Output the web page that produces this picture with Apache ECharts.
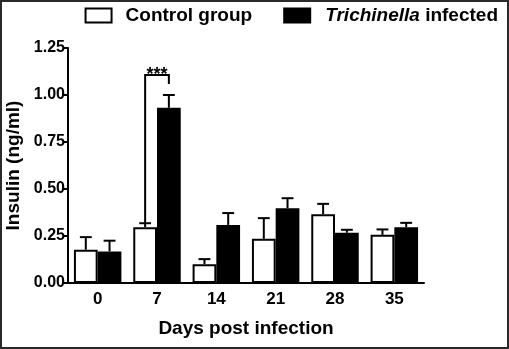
<!DOCTYPE html>
<html>
<head>
<meta charset="utf-8">
<script src="https://cdn.jsdelivr.net/npm/echarts@6/dist/echarts.min.js"></script>
<style>
    body { margin: 0; background: #fff; }
    #wrap { position: relative; width: 509px; height: 349px; }
    #chart { width: 509px; height: 349px; }
    #frame { position: absolute; left: 0; top: 0; width: 509px; height: 349px; box-sizing: border-box; border: 2px solid #2a2a2a; pointer-events: none; }
</style>
</head>
<body>
<div id="wrap">
    <div id="chart"></div>
    <div id="frame"></div>
</div>
<script>
// 数据
const days = ['0', '7', '14', '21', '28', '35'];
const controlMean = [0.177, 0.297, 0.10, 0.235, 0.366, 0.256];
const controlErr = [0.244, 0.318, 0.127, 0.345, 0.421, 0.285];
const infectedMean = [0.168, 0.932, 0.309, 0.398, 0.267, 0.297];
const infectedErr = [0.225, 1.0, 0.372, 0.451, 0.283, 0.32];
const yTicks = [0, 0.25, 0.5, 0.75, 1.0, 1.25];

// 显著性标记: [类别序号, 左脚底, 横线高度, 右脚底]
const sigBrackets = [[1, 0.32, 1.106, 1.058]];
const sigLabels = ['***'];

const FONT = '"Liberation Sans", Arial, sans-serif';
const barFrac = 0.4;    // 柱宽占类目宽度比例

const chart = echarts.init(document.getElementById('chart'));

// 误差线
function errorRender(offset) {
    return function (params, api) {
        const idx = api.value(0);
        const band = api.size([1, 0])[0];
        const base = api.coord([idx, api.value(1)]);
        const top = api.coord([idx, api.value(2)]);
        const x = base[0] + offset * band;
        const cap = band * barFrac / 4;
        const style = { stroke: '#000', lineWidth: 2 };
        return {
            type: 'group',
            children: [
                { type: 'line', shape: { x1: x, y1: base[1], x2: x, y2: top[1] }, style: style },
                { type: 'line', shape: { x1: x - cap, y1: top[1], x2: x + cap, y2: top[1] }, style: style }
            ]
        };
    };
}

function bracketRender(params, api) {
    const idx = api.value(0);
    const band = api.size([1, 0])[0];
    const c = api.coord([idx, 0])[0];
    const off = band * barFrac / 2;
    const yl = api.coord([idx, api.value(1)])[1];
    const yt = api.coord([idx, api.value(2)])[1];
    const yr = api.coord([idx, api.value(3)])[1];
    return {
        type: 'group',
        children: [
            {
                type: 'polyline',
                shape: { points: [[c - off, yl], [c - off, yt], [c + off, yt], [c + off, yr]] },
                style: { stroke: '#000', lineWidth: 2, fill: null }
            },
            {
                type: 'text',
                style: {
                    text: sigLabels[params.dataIndex], x: c, y: yt + 9,
                    align: 'center', verticalAlign: 'bottom',
                    font: 'bold 18px ' + FONT, fill: '#000'
                }
            }
        ]
    };
}

const option = {
    animation: false,
    textStyle: { fontFamily: FONT },
    legend: {
        top: 1,
        right: 6,
        icon: 'rect',
        itemWidth: 26,
        itemHeight: 14,
        itemGap: 31,
        data: ['Control group', 'Trichinella infected'],
        formatter: function (name) {
            if (name === 'Trichinella infected') return '{i|Trichinella}{n| infected}';
            return '{g|' + name + '}';
        },
        textStyle: {
            color: '#000',
            rich: {
                g: { fontSize: 19, fontWeight: 'bold', color: '#000', padding: [0, 0, 0, 9] },
                i: { fontSize: 19, fontWeight: 'bold', fontStyle: 'italic', color: '#000', padding: [0, 0, 0, 10] },
                n: { fontSize: 19, fontWeight: 'bold', color: '#000' }
            }
        }
    },
    grid: { left: 68, right: 85, top: 48, bottom: 66, outerBoundsMode: 'none', containLabel: false },
    xAxis: {
        type: 'category',
        data: days,
        name: 'Days post infection',
        nameLocation: 'middle',
        nameGap: 36,
        nameTextStyle: { fontSize: 19, fontWeight: 'bold', color: '#000' },
        axisLine: { lineStyle: { color: '#000', width: 2 } },
        axisTick: { alignWithLabel: true, length: 5, lineStyle: { color: '#000', width: 2 } },
        axisLabel: { fontSize: 17, fontWeight: 'bold', color: '#000', margin: 8 }
    },
    yAxis: {
        type: 'value',
        min: yTicks[0],
        max: yTicks[yTicks.length - 1],
        interval: 0.25,
        name: 'Insulin (ng/ml)',
        nameLocation: 'middle',
        nameGap: 39,
        nameTextStyle: { fontSize: 19, fontWeight: 'bold', color: '#000' },
        splitLine: { show: false },
        axisLine: { show: true, lineStyle: { color: '#000', width: 2 } },
        axisTick: { show: true, length: 4, lineStyle: { color: '#000', width: 2 } },
        axisLabel: {
            fontSize: 16, fontWeight: 'bold', color: '#000', margin: 3,
            formatter: function (v) { return v.toFixed(2); }
        }
    },
    series: [
        {
            name: 'Control group',
            type: 'bar',
            barWidth: (barFrac * 100) + '%',
            barGap: '0%',
            data: controlMean,
            itemStyle: { color: '#fff', borderColor: '#000', borderWidth: 2 }
        },
        {
            name: 'Trichinella infected',
            type: 'bar',
            barWidth: (barFrac * 100) + '%',
            data: infectedMean,
            itemStyle: { color: '#000', borderColor: '#000', borderWidth: 2 }
        },
        {
            type: 'custom',
            renderItem: errorRender(-barFrac / 2),
            data: days.map((d, i) => [i, controlMean[i], controlErr[i]]),
            z: 5,
            silent: true
        },
        {
            type: 'custom',
            renderItem: errorRender(barFrac / 2),
            data: days.map((d, i) => [i, infectedMean[i], infectedErr[i]]),
            z: 5,
            silent: true
        },
        {
            type: 'custom',
            renderItem: bracketRender,
            data: sigBrackets,
            z: 6,
            silent: true
        }
    ]
};

chart.setOption(option);
</script>
</body>
</html>
